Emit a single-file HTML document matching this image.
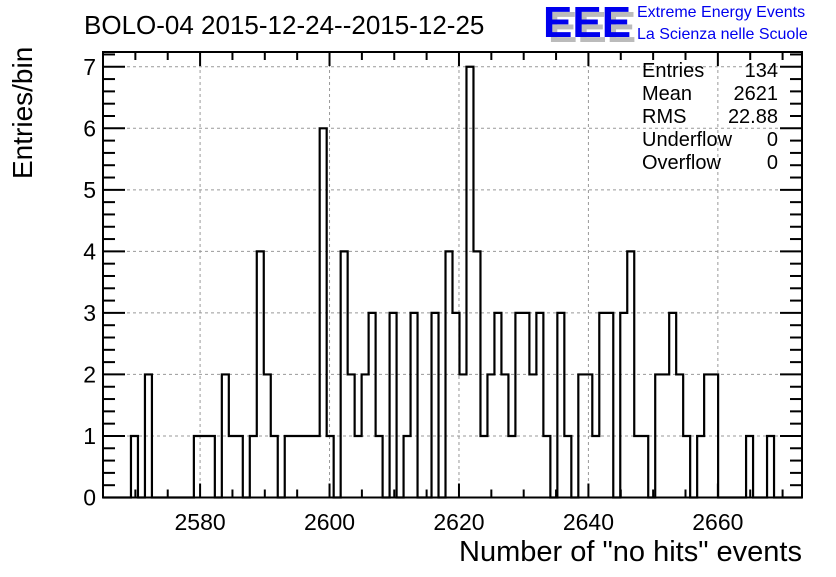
<!DOCTYPE html>
<html><head><meta charset="utf-8"><style>
body{margin:0;background:#fff;}
svg text{font-family:"Liberation Sans",sans-serif;}
</style></head><body>
<svg id="chart" width="836" height="572" xmlns="http://www.w3.org/2000/svg">
<rect width="836" height="572" fill="#fff"/>
<text x="84" y="34" font-size="26">BOLO-04 2015-12-24--2015-12-25</text>
<g>
<text x="548" y="42" font-size="44" font-weight="bold" fill="#bbb">EEE</text>
<text x="543" y="37" font-size="44" font-weight="bold" fill="#0000ee">EEE</text>
<text x="637" y="17" font-size="16" fill="#0000ee">Extreme Energy Events</text>
<text x="637" y="39" font-size="16" fill="#0000ee">La Scienza nelle Scuole</text>
</g>
<g id="grid"></g>
<g id="axes"></g>
<path id="hist" fill="none" stroke="#000" stroke-width="2.2"/>
<g font-size="20">
<text x="642" y="77">Entries</text><text x="778" y="77" text-anchor="end">134</text>
<text x="642" y="100">Mean</text><text x="778" y="100" text-anchor="end">2621</text>
<text x="642" y="123">RMS</text><text x="778" y="123" text-anchor="end">22.88</text>
<text x="642" y="146">Underflow</text><text x="778" y="146" text-anchor="end">0</text>
<text x="642" y="169">Overflow</text><text x="778" y="169" text-anchor="end">0</text>
</g>
<text x="802" y="561" font-size="29" text-anchor="end">Number of "no hits" events</text>
<text transform="translate(32,179) rotate(-90)" font-size="28">Entries/bin</text>
</svg>
<script>
const binStart = 2565;
const binEnd = 2673;
const nBins = 100;
const counts = [0,0,0,0,1,0,2,0,0,0, 0,0,0,1,1,1,0,2,1,1, 0,1,4,2,1,0,1,1,1,1, 1,6,1,0,4,2,1,2,3,1, 0,3,0,1,3,0,0,3,0,4, 3,2,7,4,1,2,3,2,1,3, 3,2,3,1,0,3,1,0,2,2, 1,3,3,0,3,4,1,1,0,2, 2,3,2,1,0,1,2,2,0,0, 0,0,1,0,0,1,0,0,0,0];
const xTicks = [2580,2600,2620,2640,2660];
const yTicks = [0,1,2,3,4,5,6,7];
const L=103,R=802,T=52,B=497.5,yMax=7.24;
const sx=v=>L+(v-binStart)/(binEnd-binStart)*(R-L);
const sy=v=>B-v/yMax*(B-T);
const NS="http://www.w3.org/2000/svg";
const grid=document.getElementById('grid'),axes=document.getElementById('axes');
function ln(p,x1,y1,x2,y2,st,w,dash){const l=document.createElementNS(NS,'line');l.setAttribute('x1',x1);l.setAttribute('y1',y1);l.setAttribute('x2',x2);l.setAttribute('y2',y2);l.setAttribute('stroke',st);l.setAttribute('stroke-width',w);if(dash)l.setAttribute('stroke-dasharray',dash);p.appendChild(l);return l;}
function tx(p,x,y,s,anchor){const t=document.createElementNS(NS,'text');t.setAttribute('x',x);t.setAttribute('y',y);t.setAttribute('font-size','23');t.setAttribute('text-anchor',anchor);t.textContent=s;p.appendChild(t);return t;}
xTicks.forEach(v=>{const g=ln(grid,sx(v),T,sx(v),B,'#999',1,'3,3');


const t=tx(axes,sx(v),530,String(v),'middle');

});
yTicks.forEach(v=>{if(v>0){const g=ln(grid,L,sy(v),R,sy(v),'#999',1,'3,3');

}
const t=tx(axes,96,sy(v)+8,String(v),'end');

});
for(let v=2570;v<=binEnd;v+=5){const maj=v%20===0;const h=maj?14:8;ln(axes,sx(v),B,sx(v),B-h,'#000',2);ln(axes,sx(v),T,sx(v),T+h,'#000',2);}
for(let i=0;i*0.2<=yMax+1e-9;i++){const v=i*0.2;const maj=i%5===0;const w=maj?22:12;ln(axes,L,sy(v),L+w,sy(v),'#000',2);ln(axes,R,sy(v),R-w,sy(v),'#000',2);}
const fr=document.createElementNS(NS,'rect');fr.setAttribute('x',L);fr.setAttribute('y',T);fr.setAttribute('width',R-L);fr.setAttribute('height',B-T);fr.setAttribute('fill','none');fr.setAttribute('stroke','#000');fr.setAttribute('stroke-width','2');


axes.appendChild(fr);
const bw=(binEnd-binStart)/nBins;
let d='M'+sx(binStart)+','+sy(0);
counts.forEach((c,i)=>{const x0=sx(binStart+i*bw),x1=sx(binStart+(i+1)*bw);d+=' L'+x0+','+sy(c)+' L'+x1+','+sy(c);});
d+=' L'+sx(binEnd)+','+sy(0);
document.getElementById('hist').setAttribute('d',d);
</script>
</body></html>
